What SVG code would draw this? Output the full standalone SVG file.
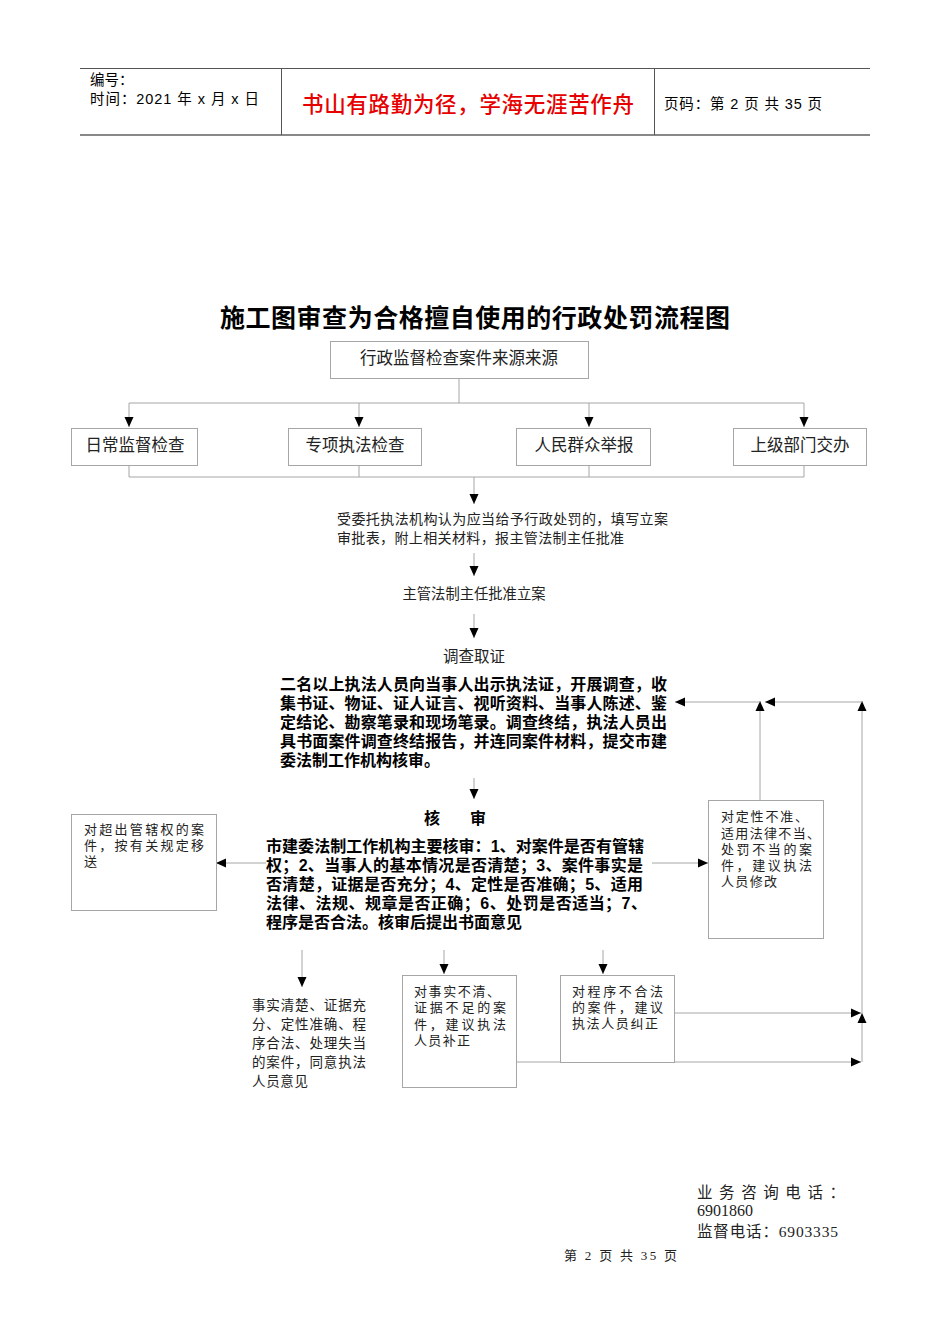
<svg xmlns="http://www.w3.org/2000/svg" width="950" height="1344" viewBox="0 0 950 1344">
<style>
.bg{fill:#fff}
.box{fill:#fff;stroke:#a6a6a6;stroke-width:1}
.ln{fill:none;stroke:#a6a6a6;stroke-width:1}
.arr{fill:none;stroke:#a6a6a6;stroke-width:1;marker-end:url(#ah)}
.hd{font-family:"Liberation Sans","Noto Sans CJK SC",sans-serif;font-size:14.5px;fill:#000}
.red{font-family:"Noto Sans CJK SC",sans-serif;font-size:21.5px;fill:#e60000;font-weight:500}
.title{font-family:"Noto Sans CJK SC",sans-serif;font-size:25px;font-weight:bold;fill:#000}
.t{font-family:"Liberation Serif","Noto Sans CJK SC",serif;fill:#222}
.b{font-family:"Liberation Sans","Noto Sans CJK SC",sans-serif;font-size:16px;font-weight:bold;fill:#000}
</style>
<defs>
<marker id="ah" markerUnits="userSpaceOnUse" markerWidth="10" markerHeight="10" refX="10" refY="5" orient="auto" viewBox="0 0 10 10">
<path d="M0,0.5 L10,5 L0,9.5 z" fill="#000"/>
</marker>
</defs>
<rect class="bg" x="0" y="0" width="950" height="1344"/>

<g id="header">
<line x1="80" y1="68.5" x2="870" y2="68.5" stroke="#555" stroke-width="1"/>
<line x1="80" y1="135" x2="870" y2="135" stroke="#888" stroke-width="2"/>
<line x1="281.5" y1="68" x2="281.5" y2="135" stroke="#555" stroke-width="1"/>
<line x1="654.5" y1="68" x2="654.5" y2="135" stroke="#555" stroke-width="1"/>
<text class="hd" x="90" y="85">编号：</text>
<text class="hd" x="90" y="104" textLength="169" lengthAdjust="spacing">时间：2021 年 x 月 x 日</text>
<text class="red" x="302" y="112" textLength="332" lengthAdjust="spacing">书山有路勤为径，学海无涯苦作舟</text>
<text class="hd" x="664" y="109" textLength="158" lengthAdjust="spacing">页码：第 2 页  共 35 页</text>
</g>

<g id="title">
<text class="title" x="220" y="327" textLength="510" lengthAdjust="spacing">施工图审查为合格擅自使用的行政处罚流程图</text>
</g>

<g id="connectors">
<path class="ln" d="M459,378 V403 M129,403 H804"/>
<path class="arr" d="M129,403 V427"/>
<path class="arr" d="M359,403 V427"/>
<path class="arr" d="M589,403 V427"/>
<path class="arr" d="M804,403 V427"/>
<path class="ln" d="M129,465 V477 M359,465 V477 M589,465 V477 M804,465 V477 M129,477 H804"/>
<path class="arr" d="M474,477 V504"/>
<path class="arr" d="M474,553 V576"/>
<path class="arr" d="M474,614 V638"/>
<path class="arr" d="M474,778 V799"/>
<path class="arr" d="M266,863 H216"/>
<path class="arr" d="M652,863 H708"/>
<path class="arr" d="M302,950 V987"/>
<path class="arr" d="M444,950 V974"/>
<path class="arr" d="M603,950 V974"/>
<path class="arr" d="M674,1013 H861"/>
<path class="arr" d="M516,1062 H861"/>
<path class="arr" d="M862,1062 V1013"/>
<path class="arr" d="M862,1013 V701"/>
<path class="arr" d="M862,702 H765"/>
<path class="arr" d="M760,800 V701"/>
<path class="arr" d="M760,702 H675"/>
</g>

<g id="n-source">
<rect class="box" x="330.5" y="341.5" width="258" height="37"/>
<text class="t" x="459" y="364" font-size="16.5" text-anchor="middle">行政监督检查案件来源来源</text>
</g>
<g id="n-daily">
<rect class="box" x="71.5" y="428.5" width="126" height="37"/>
<text class="t" x="135" y="451" font-size="16.5" text-anchor="middle">日常监督检查</text>
</g>
<g id="n-special">
<rect class="box" x="288.5" y="428.5" width="133" height="37"/>
<text class="t" x="355" y="451" font-size="16.5" text-anchor="middle">专项执法检查</text>
</g>
<g id="n-public">
<rect class="box" x="516.5" y="428.5" width="134" height="37"/>
<text class="t" x="584" y="451" font-size="16.5" text-anchor="middle">人民群众举报</text>
</g>
<g id="n-superior">
<rect class="box" x="733.5" y="428.5" width="133" height="37"/>
<text class="t" x="800" y="451" font-size="16.5" text-anchor="middle">上级部门交办</text>
</g>

<g id="n-register">
<text class="t" x="337" y="524" font-size="14" textLength="331" lengthAdjust="spacing">受委托执法机构认为应当给予行政处罚的，填写立案</text>
<text class="t" x="337" y="543" font-size="14" textLength="287" lengthAdjust="spacing">审批表，附上相关材料，报主管法制主任批准</text>
</g>
<g id="n-approve">
<text class="t" x="474" y="599" font-size="14.3" text-anchor="middle">主管法制主任批准立案</text>
</g>
<g id="n-investigate">
<text class="t" x="474" y="662" font-size="15.5" text-anchor="middle">调查取证</text>
<text class="b" x="280" y="690" textLength="387" lengthAdjust="spacing">二名以上执法人员向当事人出示执法证，开展调查，收</text>
<text class="b" x="280" y="709" textLength="387" lengthAdjust="spacing">集书证、物证、证人证言、视听资料、当事人陈述、鉴</text>
<text class="b" x="280" y="728" textLength="387" lengthAdjust="spacing">定结论、勘察笔录和现场笔录。调查终结，执法人员出</text>
<text class="b" x="280" y="747" textLength="387" lengthAdjust="spacing">具书面案件调查终结报告，并连同案件材料，提交市建</text>
<text class="b" x="280" y="766">委法制工作机构核审。</text>
</g>

<g id="n-review">
<text class="b" x="424" y="824">核</text>
<text class="b" x="470" y="824">审</text>
<text class="b" x="266" y="852" textLength="378" lengthAdjust="spacing">市建委法制工作机构主要核审：1、对案件是否有管辖</text>
<text class="b" x="266" y="871" textLength="377" lengthAdjust="spacing">权；2、当事人的基本情况是否清楚；3、案件事实是</text>
<text class="b" x="266" y="890" textLength="377" lengthAdjust="spacing">否清楚，证据是否充分；4、定性是否准确；5、适用</text>
<text class="b" x="266" y="909" textLength="381" lengthAdjust="spacing">法律、法规、规章是否正确；6、处罚是否适当；7、</text>
<text class="b" x="266" y="928">程序是否合法。核审后提出书面意见</text>
</g>

<g id="n-transfer">
<rect class="box" x="71.5" y="814.5" width="145" height="96"/>
<text class="t" x="84" y="834" font-size="13" textLength="120" lengthAdjust="spacing">对超出管辖权的案</text>
<text class="t" x="84" y="850" font-size="13" textLength="120" lengthAdjust="spacing">件，按有关规定移</text>
<text class="t" x="84" y="866" font-size="13">送</text>
</g>

<g id="n-modify">
<rect class="box" x="708.5" y="800.5" width="115" height="138"/>
<text class="t" x="721" y="821" font-size="13" textLength="87" lengthAdjust="spacing">对定性不准、</text>
<text class="t" x="721" y="838" font-size="13" textLength="99" lengthAdjust="spacing">适用法律不当、</text>
<text class="t" x="721" y="854" font-size="13" textLength="91" lengthAdjust="spacing">处罚不当的案</text>
<text class="t" x="721" y="870" font-size="13" textLength="91" lengthAdjust="spacing">件，建议执法</text>
<text class="t" x="721" y="886" font-size="13" textLength="56" lengthAdjust="spacing">人员修改</text>
</g>

<g id="n-agree">
<text class="t" x="252" y="1010" font-size="13.5" textLength="114" lengthAdjust="spacing">事实清楚、证据充</text>
<text class="t" x="252" y="1029" font-size="13.5" textLength="114" lengthAdjust="spacing">分、定性准确、程</text>
<text class="t" x="252" y="1048" font-size="13.5" textLength="114" lengthAdjust="spacing">序合法、处理失当</text>
<text class="t" x="252" y="1067" font-size="13.5" textLength="114" lengthAdjust="spacing">的案件，同意执法</text>
<text class="t" x="252" y="1086" font-size="13.5" textLength="56" lengthAdjust="spacing">人员意见</text>
</g>

<g id="n-supplement">
<rect class="box" x="402.5" y="975.5" width="114" height="112"/>
<text class="t" x="414" y="996" font-size="13" textLength="86" lengthAdjust="spacing">对事实不清、</text>
<text class="t" x="414" y="1012" font-size="13" textLength="92" lengthAdjust="spacing">证据不足的案</text>
<text class="t" x="414" y="1029" font-size="13" textLength="92" lengthAdjust="spacing">件，建议执法</text>
<text class="t" x="414" y="1045" font-size="13" textLength="56" lengthAdjust="spacing">人员补正</text>
</g>

<g id="n-correct">
<rect class="box" x="560.5" y="975.5" width="114" height="87"/>
<text class="t" x="572" y="996" font-size="13" textLength="91" lengthAdjust="spacing">对程序不合法</text>
<text class="t" x="572" y="1012" font-size="13" textLength="91" lengthAdjust="spacing">的案件，建议</text>
<text class="t" x="572" y="1028" font-size="13" textLength="86" lengthAdjust="spacing">执法人员纠正</text>
</g>

<g id="footer">
<text class="t" x="697" y="1198" font-size="15.5" textLength="148" lengthAdjust="spacing">业 务 咨 询 电 话 ：</text>
<text class="t" x="697" y="1216" font-size="16">6901860</text>
<text class="t" x="697" y="1237" font-size="15.5" textLength="141" lengthAdjust="spacing">监督电话：6903335</text>
<text class="t" x="564" y="1260" font-size="13" textLength="113" lengthAdjust="spacing">第 2 页 共 35 页</text>
</g>
</svg>
